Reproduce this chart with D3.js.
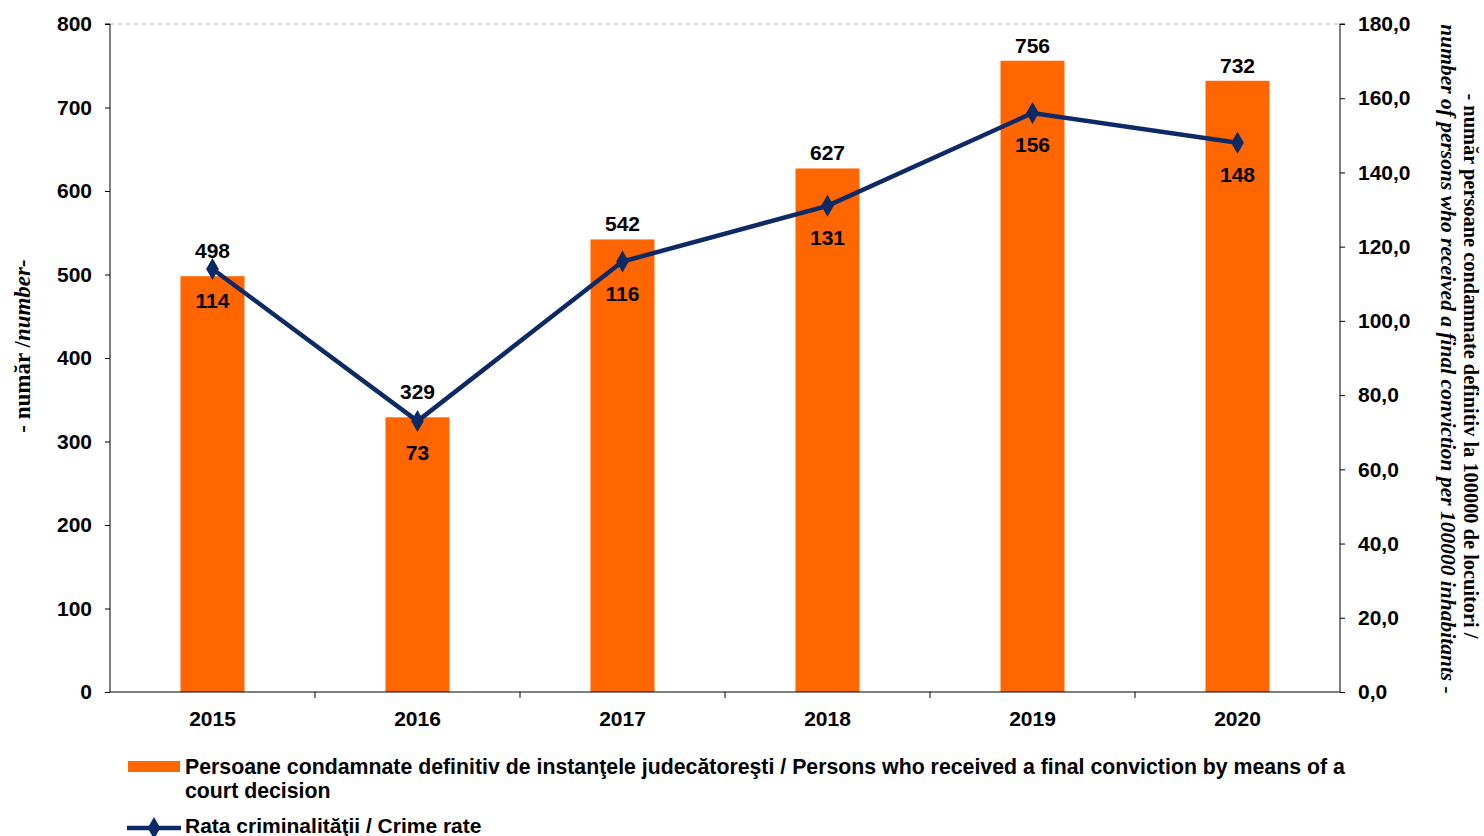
<!DOCTYPE html>
<html>
<head>
<meta charset="utf-8">
<script src="https://cdn.jsdelivr.net/npm/d3@7"></script>
<style>
  body { margin: 0; background: #fff; }
  text { font-family: "Liberation Sans", Arial, sans-serif; font-weight: bold; fill: #000; }
  .serif { font-family: "Liberation Serif", "Times New Roman", serif; }
</style>
</head>
<body>
<div id="wrapper"></div>
<script>
// data
const years = ["2015", "2016", "2017", "2018", "2019", "2020"]
const convicted = [498, 329, 542, 627, 756, 732]
const crimeRate = [114, 73, 116, 131, 156, 148]
const leftTicks = [0, 100, 200, 300, 400, 500, 600, 700, 800]
const rightTicks = [0, 20, 40, 60, 80, 100, 120, 140, 160, 180]
const barLegend = ["Persoane condamnate definitiv de instanţele judecătoreşti / Persons who received a final conviction by means of a", "court decision"]
const lineLegend = "Rata criminalităţii / Crime rate"

const width = 1484
const height = 836
const margin = {top: 24, left: 110, right: 144, bottom: 144}
const boundedWidth = width - margin.left - margin.right
const boundedHeight = height - margin.top - margin.bottom
const navy = "#0d2a66"

const svg = d3.select("#wrapper").append("svg")
    .attr("width", width)
    .attr("height", height)
const bounds = svg.append("g")
    .attr("transform", `translate(${margin.left},${margin.top})`)

// scales
const xScale = d3.scaleBand().domain(years).range([0, boundedWidth])
const yLeft = d3.scaleLinear().domain([0, 800]).range([boundedHeight, 0])
const yRight = d3.scaleLinear().domain([0, 180]).range([boundedHeight, 0])
const xMid = d => xScale(d) + xScale.bandwidth() / 2

// top dashed line
bounds.append("line")
    .attr("x1", 0).attr("x2", boundedWidth)
    .attr("y1", yLeft(800)).attr("y2", yLeft(800))
    .attr("stroke", "#bfbfbf")
    .attr("stroke-dasharray", "5,3")

// bars
const barWidth = 64
bounds.selectAll(".bar")
    .data(years)
    .join("rect")
    .attr("class", "bar")
    .attr("x", d => xMid(d) - barWidth / 2)
    .attr("y", (d, i) => yLeft(convicted[i]))
    .attr("width", barWidth)
    .attr("height", (d, i) => boundedHeight - yLeft(convicted[i]))
    .attr("fill", "#ff6600")

// bar labels, lifted a bit when the line marker sits on the bar top
bounds.selectAll(".barLabel")
    .data(years)
    .join("text")
    .attr("class", "barLabel")
    .attr("x", xMid)
    .attr("y", (d, i) => {
      const top = yLeft(convicted[i])
      const clash = Math.abs(yRight(crimeRate[i]) - top) < 12
      return top - (clash ? 18 : 8)
    })
    .attr("text-anchor", "middle")
    .style("font-size", "21px")
    .text((d, i) => convicted[i])

// axes
const leftAxis = d3.axisLeft(yLeft).tickValues(leftTicks).tickSize(5).tickPadding(13)
const gLeft = bounds.append("g").call(leftAxis)
gLeft.select(".domain").attr("d", `M-5,0H0V${boundedHeight}`)
gLeft.selectAll("text").style("font-size", "21px").style("font-family", "Liberation Sans, Arial")

const rightAxis = d3.axisRight(yRight).tickValues(rightTicks).tickSize(5).tickPadding(13)
    .tickFormat(d => d3.format(".1f")(d).replace(".", ","))
const gRight = bounds.append("g").attr("transform", `translate(${boundedWidth},0)`).call(rightAxis)
gRight.select(".domain").attr("d", `M5,0H0V${boundedHeight}`)
gRight.selectAll("text").style("font-size", "21px").style("font-family", "Liberation Sans, Arial")

const gBottom = bounds.append("g").attr("transform", `translate(0,${boundedHeight})`)
gBottom.append("line").attr("x1", 0).attr("x2", boundedWidth).attr("stroke", "#000")
gBottom.selectAll(".xtick")
    .data(years.slice(1))
    .join("line")
    .attr("x1", d => xScale(d)).attr("x2", d => xScale(d))
    .attr("y1", 0).attr("y2", 6)
    .attr("stroke", "#000")
gBottom.selectAll(".xlabel")
    .data(years)
    .join("text")
    .attr("x", xMid)
    .attr("y", 34)
    .attr("text-anchor", "middle")
    .style("font-size", "21px")
    .text(d => d)

// line
const lineGen = d3.line()
    .x((d, i) => xMid(years[i]))
    .y(d => yRight(d))
bounds.append("path")
    .datum(crimeRate)
    .attr("d", lineGen)
    .attr("fill", "none")
    .attr("stroke", navy)
    .attr("stroke-width", 4.5)

const diamond = d3.symbol().type(d3.symbolDiamond).size(140)
bounds.selectAll(".marker")
    .data(crimeRate)
    .join("path")
    .attr("transform", (d, i) => `translate(${xMid(years[i])},${yRight(d)})`)
    .attr("d", diamond)
    .attr("fill", navy)

bounds.selectAll(".lineLabel")
    .data(crimeRate)
    .join("text")
    .attr("x", (d, i) => xMid(years[i]))
    .attr("y", d => yRight(d) + 39)
    .attr("text-anchor", "middle")
    .style("font-size", "21px")
    .text(d => d)

// axis titles
const leftTitle = svg.append("text")
    .attr("class", "serif")
    .attr("transform", `translate(30,346) rotate(-90)`)
    .attr("text-anchor", "middle")
    .style("font-size", "23px")
leftTitle.append("tspan").text("- număr /")
leftTitle.append("tspan").style("font-style", "italic").text("number-")

svg.append("text")
    .attr("class", "serif")
    .attr("transform", `translate(1464,366) rotate(90)`)
    .attr("text-anchor", "middle")
    .style("font-size", "20.4px")
    .text("- număr persoane condamnate definitiv la 100000 de locuitori /")
svg.append("text")
    .attr("class", "serif")
    .attr("transform", `translate(1441,359) rotate(90)`)
    .attr("text-anchor", "middle")
    .style("font-size", "21.5px")
    .style("font-style", "italic")
    .text("number of persons who received a final conviction per 100000 inhabitants -")

// legend
const legend = svg.append("g")
legend.append("rect")
    .attr("x", 128).attr("y", 761)
    .attr("width", 52).attr("height", 11)
    .attr("fill", "#ff6600")
legend.selectAll(".legText")
    .data(barLegend)
    .join("text")
    .attr("x", 185)
    .attr("y", (d, i) => 774 + i * 24)
    .style("font-size", "21.3px")
    .text(d => d)

legend.append("line")
    .attr("x1", 127).attr("x2", 181)
    .attr("y1", 828).attr("y2", 828)
    .attr("stroke", navy)
    .attr("stroke-width", 4.5)
legend.append("path")
    .attr("transform", "translate(154,828)")
    .attr("d", diamond)
    .attr("fill", navy)
legend.append("text")
    .attr("x", 185).attr("y", 833)
    .style("font-size", "21px")
    .text(lineLegend)
</script>
</body>
</html>
